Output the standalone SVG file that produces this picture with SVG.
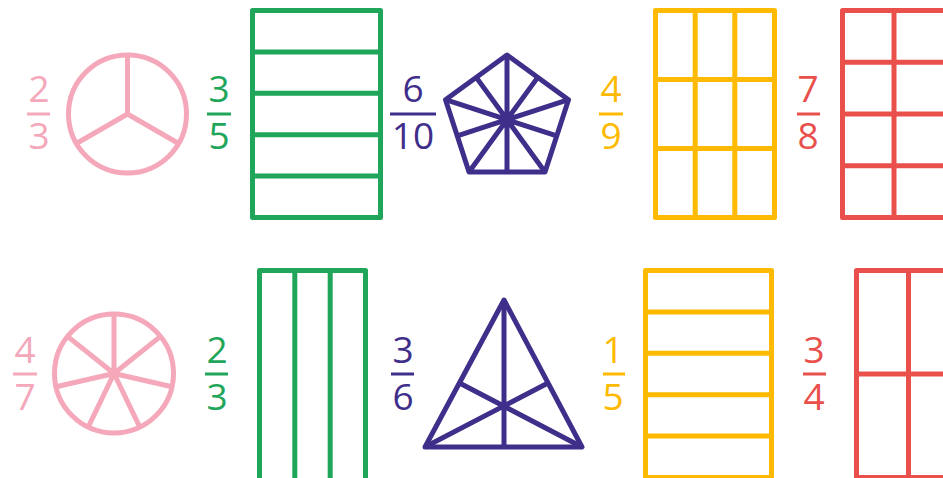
<svg xmlns="http://www.w3.org/2000/svg" width="943" height="478" viewBox="0 0 943 478">
<style>
.s{fill:none;stroke-width:5;stroke-linejoin:round;stroke-linecap:butt}
.t{font-family:"Open Sans","Liberation Sans",sans-serif;font-size:37px;text-anchor:middle}
.pink{stroke:#F4A8BA;fill:#F4A8BA}
.green{stroke:#1FA65B;fill:#1FA65B}
.purple{stroke:#3F2E8A;fill:#3F2E8A}
.yellow{stroke:#FDBA00;fill:#FDBA00}
.red{stroke:#E9504B;fill:#E9504B}
text{stroke:none}
.bar{stroke-width:3}
</style>
<rect width="943" height="478" fill="#fff"/>

<g id="frac-2-3-top" class="pink">
<text class="t" x="39" y="102">2</text>
<line class="bar" x1="27" y1="114" x2="50" y2="114"/>
<text class="t" x="39" y="149">3</text>
</g>
<g id="circle-3" class="pink">
<circle class="s" cx="127.5" cy="114" r="59"/>
<path class="s" d="M127.5 55V114L76.4 143.5M127.5 114L178.6 143.5"/>
</g>

<g id="frac-3-5" class="green">
<text class="t" x="219" y="102">3</text>
<line class="bar" x1="207" y1="114" x2="231" y2="114"/>
<text class="t" x="219" y="149">5</text>
</g>
<g id="rect-5" class="green">
<rect class="s" x="252.5" y="10.5" width="128" height="207"/>
<path class="s" d="M252.5 51.9H380.5M252.5 93.3H380.5M252.5 134.7H380.5M252.5 176.1H380.5"/>
</g>

<g id="frac-6-10" class="purple">
<text class="t" x="413" y="102">6</text>
<line class="bar" x1="390" y1="114" x2="436" y2="114"/>
<text class="t" x="413" y="149">10</text>
</g>
<g id="pentagon-10" class="purple">
<polygon class="s" points="507,55 568.5,99.7 545,172 469,172 445.5,99.7"/>
<path class="s" d="M507 55L507 172M568.5 99.7L457.25 135.85M545 172L476.25 77.35M469 172L537.75 77.35M445.5 99.7L556.75 135.85"/>
</g>

<g id="frac-4-9" class="yellow">
<text class="t" x="611" y="102">4</text>
<line class="bar" x1="599" y1="114" x2="623" y2="114"/>
<text class="t" x="611" y="149">9</text>
</g>
<g id="grid-9" class="yellow">
<rect class="s" x="655.5" y="10.5" width="119" height="207"/>
<path class="s" d="M695.2 10.5V217.5M734.8 10.5V217.5M655.5 79.5H774.5M655.5 148.5H774.5"/>
</g>

<g id="frac-7-8" class="red">
<text class="t" x="808" y="102">7</text>
<line class="bar" x1="797" y1="114" x2="820" y2="114"/>
<text class="t" x="808" y="149">8</text>
</g>
<g id="grid-8" class="red">
<rect class="s" x="842.5" y="10.5" width="103" height="207"/>
<path class="s" d="M894 10.5V217.5M842.5 62.25H946M842.5 114H946M842.5 165.75H946"/>
</g>

<g id="frac-4-7" class="pink">
<text class="t" x="25" y="363">4</text>
<line class="bar" x1="13" y1="374" x2="37" y2="374"/>
<text class="t" x="25" y="410">7</text>
</g>
<g id="circle-7" class="pink">
<circle class="s" cx="114" cy="373.5" r="59.5"/>
<path class="s" d="M114 373.5L114 314M114 373.5L160.5 336.4M114 373.5L172 386.7M114 373.5L139.8 427.1M114 373.5L88.2 427.1M114 373.5L56 386.7M114 373.5L67.5 336.4"/>
</g>

<g id="frac-2-3-bottom" class="green">
<text class="t" x="217" y="363">2</text>
<line class="bar" x1="205" y1="374" x2="228" y2="374"/>
<text class="t" x="217" y="410">3</text>
</g>
<g id="rect-3" class="green">
<rect class="s" x="259.5" y="270.5" width="106" height="210"/>
<path class="s" d="M294.8 270.5V480M330.2 270.5V480"/>
</g>

<g id="frac-3-6" class="purple">
<text class="t" x="403" y="363">3</text>
<line class="bar" x1="391" y1="374" x2="414" y2="374"/>
<text class="t" x="403" y="410">6</text>
</g>
<g id="triangle-6" class="purple">
<polygon class="s" points="504,300 582,447 425,447"/>
<path class="s" d="M504 300V447M425 447L548 383M582 447L459.5 383"/>
</g>

<g id="frac-1-5" class="yellow">
<text class="t" x="613" y="363">1</text>
<line class="bar" x1="603" y1="374" x2="625" y2="374"/>
<text class="t" x="613" y="410">5</text>
</g>
<g id="rect-5-bottom" class="yellow">
<rect class="s" x="645.5" y="270.5" width="126" height="207"/>
<path class="s" d="M645.5 311.9H771.5M645.5 353.3H771.5M645.5 394.7H771.5M645.5 436.1H771.5"/>
</g>

<g id="frac-3-4" class="red">
<text class="t" x="814" y="363">3</text>
<line class="bar" x1="803" y1="374" x2="826" y2="374"/>
<text class="t" x="814" y="410">4</text>
</g>
<g id="grid-4" class="red">
<rect class="s" x="856.5" y="270.5" width="104" height="207"/>
<path class="s" d="M908.5 270.5V480M856.5 374H946"/>
</g>

<g id="connectors"/>
</svg>
